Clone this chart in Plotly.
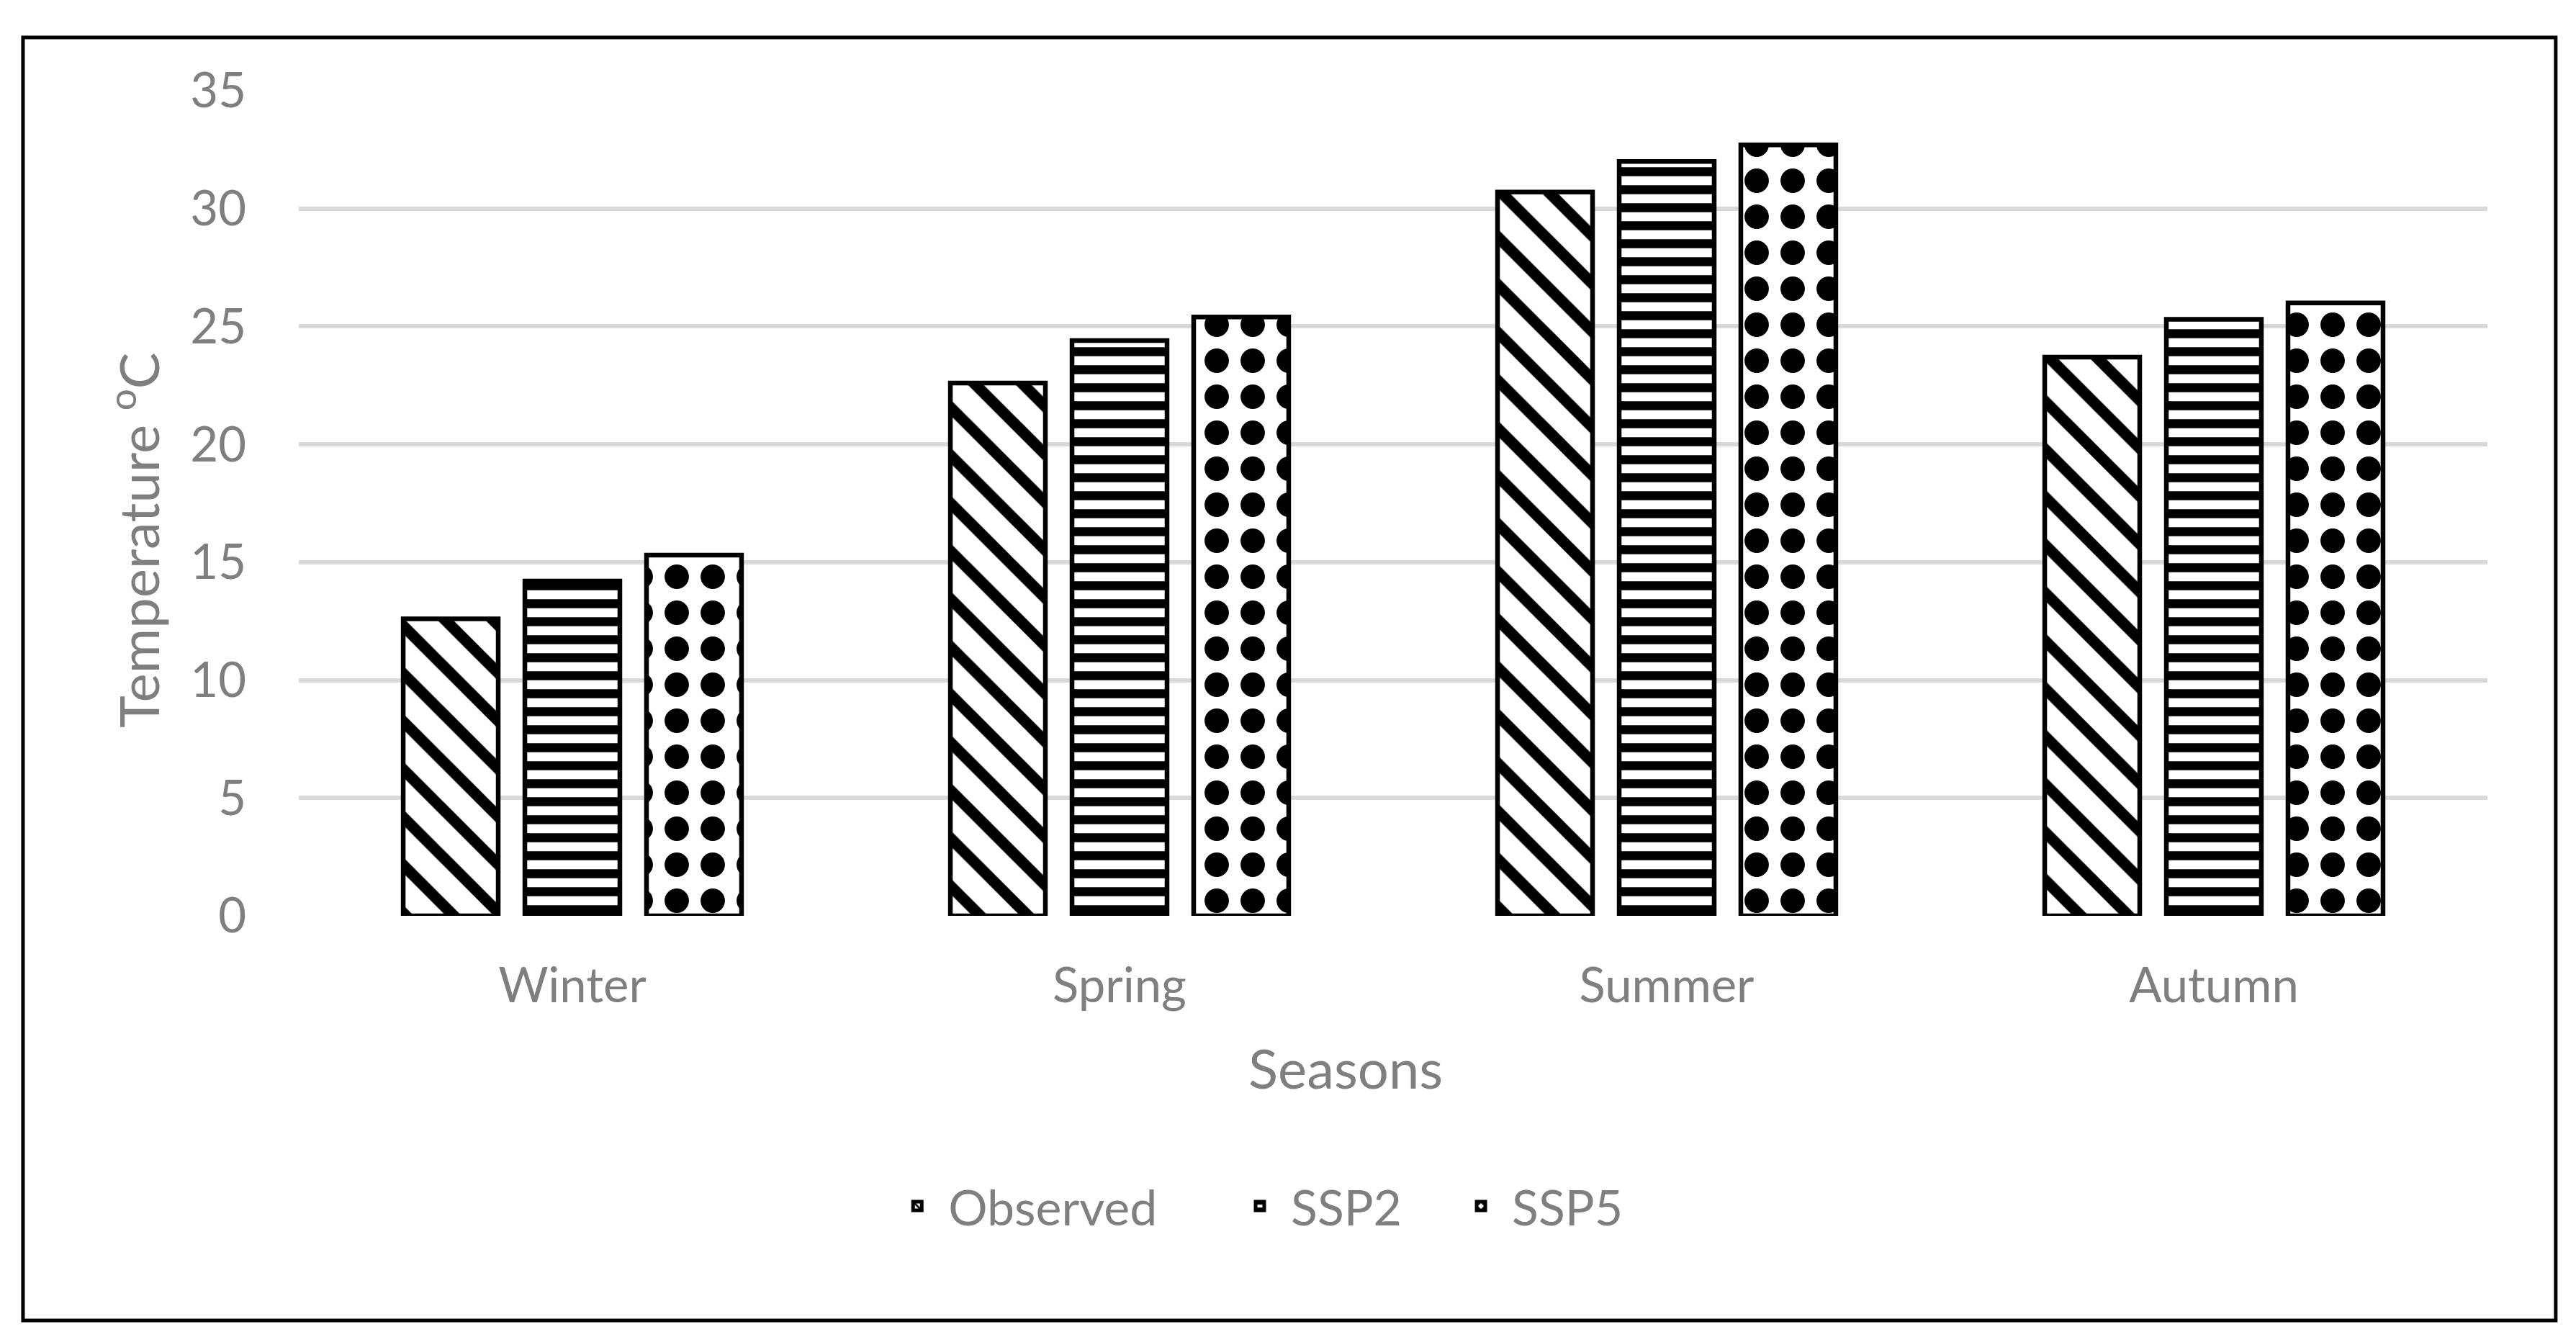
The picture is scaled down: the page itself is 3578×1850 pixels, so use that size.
import plotly.graph_objects as go

seasons = ["Winter", "Spring", "Summer", "Autumn"]
observed = [12.6, 22.6, 30.7, 23.7]
ssp2 = [14.2, 24.4, 32.0, 25.3]
ssp5 = [15.3, 25.4, 32.7, 26.0]
y_ticks = [0, 5, 10, 15, 20, 25, 30, 35]

FONT = "Lato"
GRAY = "#7f7f7f"

fig = go.Figure()
fig.add_trace(go.Bar(
    name="Observed", x=seasons, y=observed, legend="legend", showlegend=True,
    marker=dict(color="white", line=dict(color="black", width=6.5),
                pattern=dict(shape="\\", fgcolor="black", bgcolor="white",
                             size=47, solidity=0.33, fillmode="replace")),
))
fig.add_trace(go.Bar(
    name="SSP2", x=seasons, y=ssp2, legend="legend2", showlegend=True,
    marker=dict(color="white", line=dict(color="black", width=6.5),
                pattern=dict(shape="-", fgcolor="black", bgcolor="white",
                             size=25, solidity=0.5, fillmode="replace")),
))
fig.add_trace(go.Bar(
    name="SSP5", x=seasons, y=ssp5, legend="legend3", showlegend=True,
    marker=dict(color="white", line=dict(color="black", width=6.5),
                pattern=dict(shape=".", fgcolor="black", bgcolor="white",
                             size=50, solidity=0.36, fillmode="replace")),
))

legend_common = dict(orientation="h", yanchor="middle", xanchor="left",
                     y=-0.352, itemwidth=76, bgcolor="rgba(0,0,0,0)",
                     font=dict(family=FONT, size=68, color=GRAY))

fig.update_layout(
    width=3578, height=1850,
    margin=dict(l=407, r=131, t=118, b=586),
    paper_bgcolor="white", plot_bgcolor="white",
    showlegend=True,
    barmode="group", bargap=0.333, bargroupgap=0.219,
    font=dict(family=FONT, color=GRAY),
    legend=dict(x=0.2685, **legend_common),
    legend2=dict(x=0.4250, **legend_common),
    legend3=dict(x=0.5260, **legend_common),
    xaxis=dict(showgrid=False, showline=False, zeroline=False,
               tickfont=dict(family=FONT, size=67, color=GRAY),
               ticklabelstandoff=52),
    yaxis=dict(range=[0, 35], tickvals=y_ticks, showgrid=True,
               gridcolor="#d9d9d9", gridwidth=6, zeroline=False,
               showline=False, tickfont=dict(family=FONT, size=67, color=GRAY),
               ticklabelstandoff=72),
    annotations=[
        dict(text="Seasons", xref="paper", yref="paper", x=0.4783, y=-0.184,
             xanchor="center", yanchor="middle", showarrow=False,
             font=dict(family=FONT, size=76, color=GRAY)),
        dict(text="Temperature <sup>o</sup>C", xref="paper", yref="paper",
             x=-0.075, y=0.4555, xanchor="center", yanchor="middle",
             textangle=-90, showarrow=False,
             font=dict(family=FONT, size=76, color=GRAY)),
    ],
    shapes=[
        dict(type="rect", xref="paper", yref="paper", x0=-0.126, x1=1.0312,
             y0=-0.4905, y1=1.0645, line=dict(color="black", width=5),
             fillcolor="rgba(0,0,0,0)", layer="above"),
    ],
)

fig.write_html("out.html")
